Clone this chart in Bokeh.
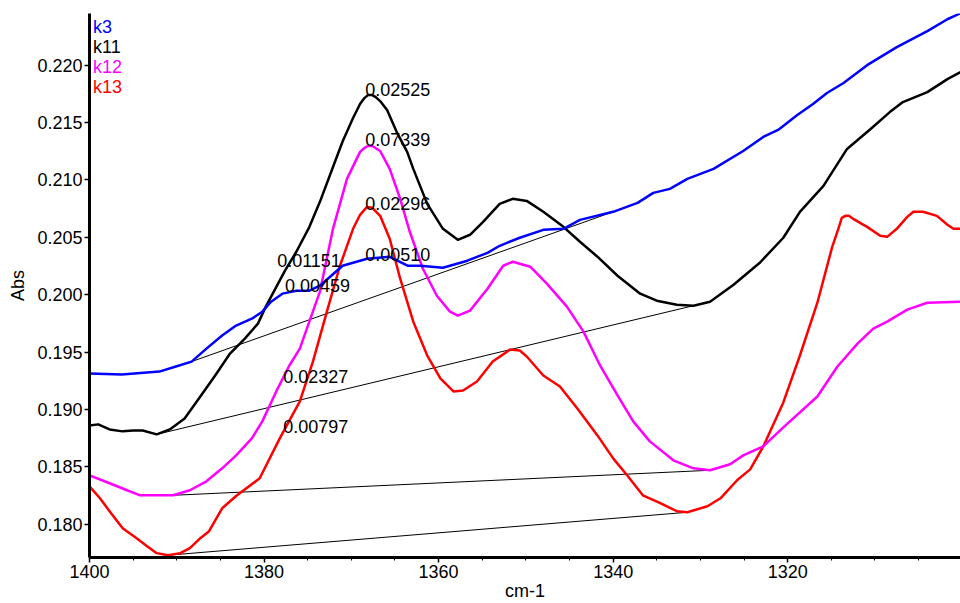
from bokeh.plotting import figure
from bokeh.models import Range1d, FixedTicker, PrintfTickFormatter, ColumnDataSource
from bokeh.core.properties import value
from bokeh.embed import file_html
from bokeh.resources import INLINE

# --- spectra (wavenumber in cm-1, absorbance) ---
k3_x = [1400.0, 1396.3, 1392.0, 1390.1, 1388.3, 1386.6, 1384.8, 1383.2, 1381.4, 1380.2,
        1379.2, 1377.9, 1376.3, 1374.8, 1373.6, 1371.0, 1368.2, 1365.6, 1363.5, 1362.1,
        1359.5, 1356.7, 1354.4, 1353.0, 1350.7, 1348.0, 1345.7, 1343.8, 1340.0, 1337.2,
        1335.4, 1333.5, 1331.5, 1330.0, 1328.5, 1325.1, 1322.8, 1321.1, 1318.9, 1317.1,
        1315.5, 1313.6, 1310.9, 1307.5, 1304.0, 1301.7, 1300.2]
k3_y = [0.19313, 0.19304, 0.19330, 0.19374, 0.19417, 0.19530, 0.19644, 0.19731, 0.19791, 0.19852,
        0.19939, 0.20009, 0.20035, 0.20035, 0.20078, 0.20252, 0.20313, 0.20330, 0.20252, 0.20252,
        0.20235, 0.20296, 0.20365, 0.20426, 0.20496, 0.20565, 0.20574, 0.20652, 0.20722, 0.20800,
        0.20887, 0.20922, 0.21009, 0.21052, 0.21096, 0.21252, 0.21374, 0.21435, 0.21565, 0.21661,
        0.21757, 0.21844, 0.22000, 0.22157, 0.22296, 0.22400, 0.22452]

k11_x = [1400.0, 1399.0, 1397.7, 1396.2, 1395.0, 1393.9, 1392.3, 1390.8, 1389.1, 1387.3,
         1385.6, 1383.9, 1382.2, 1380.7, 1379.8, 1378.7, 1377.6, 1376.3, 1374.8, 1373.6,
         1372.1, 1371.0, 1369.8, 1369.0, 1368.5, 1368.1, 1367.6, 1367.2, 1366.7, 1365.9,
         1364.8, 1363.6, 1362.9, 1361.3, 1359.5, 1357.8, 1356.4, 1354.9, 1353.0, 1351.5,
         1349.9, 1348.0, 1345.7, 1343.8, 1341.8, 1339.5, 1336.9, 1335.0, 1332.7, 1330.8,
         1328.9, 1326.2, 1323.2, 1320.5, 1318.6, 1315.9, 1313.2, 1310.5, 1308.3, 1306.8,
         1304.0, 1301.7, 1300.2]
k11_y = [0.18861, 0.18870, 0.18826, 0.18809, 0.18817, 0.18817, 0.18783, 0.18826, 0.18922, 0.19113,
         0.19296, 0.19487, 0.19617, 0.19748, 0.19896, 0.20052, 0.20209, 0.20374, 0.20591, 0.20809,
         0.21113, 0.21335, 0.21539, 0.21661, 0.21713, 0.21739, 0.21739, 0.21722, 0.21687, 0.21609,
         0.21417, 0.21244, 0.21096, 0.20791, 0.20574, 0.20478, 0.20522, 0.20635, 0.20791, 0.20835,
         0.20817, 0.20722, 0.20591, 0.20461, 0.20331, 0.20165, 0.20009, 0.19948, 0.19913, 0.19904,
         0.19939, 0.20087, 0.20278, 0.20496, 0.20722, 0.20948, 0.21270, 0.21444, 0.21591, 0.21678,
         0.21765, 0.21878, 0.21939]

k12_x = [1400.0, 1397.7, 1395.7, 1394.2, 1390.4, 1388.5, 1386.6, 1384.8, 1383.2, 1381.4,
         1380.2, 1378.6, 1377.1, 1375.9, 1373.6, 1372.1, 1370.5, 1369.0, 1368.5, 1368.1,
         1367.6, 1366.7, 1365.6, 1364.4, 1363.3, 1361.8, 1360.2, 1358.7, 1357.8, 1356.4,
         1354.4, 1352.6, 1351.5, 1350.7, 1349.5, 1347.6, 1345.3, 1343.4, 1341.5, 1339.5,
         1337.7, 1335.8, 1333.1, 1330.8, 1328.9, 1326.6, 1325.1, 1322.8, 1320.5, 1316.6,
         1314.3, 1312.0, 1310.2, 1308.6, 1306.3, 1304.0, 1300.2]
k12_y = [0.18426, 0.18357, 0.18296, 0.18252, 0.18252, 0.18296, 0.18374, 0.18487, 0.18600, 0.18748,
         0.18896, 0.19157, 0.19383, 0.19530, 0.20026, 0.20574, 0.21009, 0.21244, 0.21278, 0.21296,
         0.21296, 0.21252, 0.21096, 0.20835, 0.20548, 0.20226, 0.19991, 0.19852, 0.19817, 0.19861,
         0.20052, 0.20252, 0.20287, 0.20270, 0.20244, 0.20096, 0.19896, 0.19678, 0.19383, 0.19122,
         0.18896, 0.18722, 0.18557, 0.18487, 0.18470, 0.18522, 0.18600, 0.18678, 0.18844, 0.19113,
         0.19374, 0.19574, 0.19704, 0.19765, 0.19870, 0.19930, 0.19939]

k13_x = [1400.0, 1398.8, 1397.7, 1396.2, 1394.6, 1393.4, 1392.3, 1391.0, 1389.6, 1388.5,
         1387.3, 1386.3, 1384.8, 1383.1, 1380.5, 1378.2, 1375.9, 1374.4, 1372.8, 1371.3,
         1369.8, 1369.0, 1368.2, 1367.6, 1366.7, 1365.6, 1364.4, 1362.9, 1361.3, 1359.8,
         1358.3, 1357.2, 1355.6, 1353.8, 1351.8, 1350.7, 1349.9, 1348.0, 1346.1, 1344.1,
         1341.8, 1340.0, 1338.4, 1336.6, 1334.6, 1332.7, 1331.5, 1329.2, 1327.7, 1325.8,
         1324.3, 1322.8, 1320.5, 1318.6, 1316.6, 1314.9, 1314.2, 1313.8, 1313.4, 1313.0,
         1312.5, 1310.9, 1309.4, 1308.6, 1307.5, 1306.3, 1305.6, 1304.5, 1302.9, 1301.7,
         1301.0, 1300.2]
k13_y = [0.18330, 0.18226, 0.18113, 0.17965, 0.17878, 0.17809, 0.17748, 0.17730, 0.17748, 0.17791,
         0.17878, 0.17939, 0.18139, 0.18252, 0.18400, 0.18748, 0.19070, 0.19417, 0.19852, 0.20252,
         0.20574, 0.20696, 0.20765, 0.20757, 0.20687, 0.20487, 0.20139, 0.19765, 0.19470, 0.19270,
         0.19157, 0.19165, 0.19244, 0.19417, 0.19522, 0.19513, 0.19461, 0.19296, 0.19200, 0.19009,
         0.18774, 0.18574, 0.18426, 0.18252, 0.18183, 0.18113, 0.18104, 0.18157, 0.18226, 0.18383,
         0.18478, 0.18678, 0.19061, 0.19470, 0.19930, 0.20417, 0.20574, 0.20670, 0.20687, 0.20687,
         0.20661, 0.20591, 0.20513, 0.20504, 0.20574, 0.20678, 0.20722, 0.20722, 0.20687, 0.20609,
         0.20574, 0.20574]

# --- peak baselines (start / end points) ---
k3_base_x = [1388.3, 1340.0]
k3_base_y = [0.19417, 0.20722]
k11_base_x = [1392.3, 1330.8]
k11_base_y = [0.18783, 0.19904]
k12_base_x = [1390.4, 1328.9]
k12_base_y = [0.18252, 0.18470]
k13_base_x = [1391.0, 1331.5]
k13_base_y = [0.17730, 0.18104]

# --- peak annotations ---
peak_text = ["0.02525", "0.07339", "0.02296", "0.00510",
             "0.01151", "0.00459", "0.02327", "0.00797"]
peak_x = [1368.4, 1368.4, 1368.4, 1368.4, 1378.5, 1377.6, 1377.8, 1377.8]
peak_y = [0.21791, 0.21348, 0.20791, 0.20348, 0.20296, 0.20078, 0.19287, 0.18852]

# --- series names ---
series_names = ["k3", "k11", "k12", "k13"]
series_colors = ["#0000FF", "#000000", "#FF00FF", "#FF0000"]
name_x = [1399.6, 1399.6, 1399.6, 1399.6]
name_y = [0.22330, 0.22156, 0.21982, 0.21808]

x_major = [1400, 1380, 1360, 1340, 1320]
x_minor = list(range(1300, 1401, 5))
y_major = [0.180, 0.185, 0.190, 0.195, 0.200, 0.205, 0.210, 0.215, 0.220]

FONT = "Liberation Sans"

p = figure(width=960, height=603, output_backend="svg", toolbar_location=None,
           x_range=Range1d(1400, 1300.2), y_range=Range1d(0.1771, 0.2245),
           min_border_left=89, min_border_right=0, min_border_top=13, min_border_bottom=44)
p.outline_line_color = None
p.background_fill_color = "white"
p.border_fill_color = "white"
p.xgrid.visible = False
p.ygrid.visible = False

for ax in (p.xaxis[0], p.yaxis[0]):
    ax.axis_line_width = 3
    ax.axis_line_color = "black"
    ax.major_tick_line_color = "black"
    ax.major_tick_line_width = 1.5
    ax.major_tick_in = 0
    ax.major_tick_out = 5
    ax.major_label_text_font = FONT
    ax.major_label_text_font_size = "18px"
    ax.major_label_text_color = "black"
    ax.axis_label_text_font = FONT
    ax.axis_label_text_font_size = "18px"
    ax.axis_label_text_font_style = "normal"
    ax.axis_label_text_color = "black"

p.xaxis.ticker = FixedTicker(ticks=x_major, minor_ticks=x_minor)
p.xaxis.minor_tick_in = 0
p.xaxis.minor_tick_out = 3
p.xaxis.minor_tick_line_color = "black"
p.xaxis.major_label_standoff = 2
p.xaxis.axis_label = "cm-1"
p.xaxis.axis_label_standoff = 0

p.yaxis.ticker = FixedTicker(ticks=y_major)
p.yaxis.formatter = PrintfTickFormatter(format="%.3f")
p.yaxis.minor_tick_line_color = None
p.yaxis.major_label_standoff = 2
p.yaxis.axis_label = "Abs"
p.yaxis.axis_label_standoff = 6

# baselines under the spectra
for bx, by in ((k3_base_x, k3_base_y), (k11_base_x, k11_base_y),
               (k12_base_x, k12_base_y), (k13_base_x, k13_base_y)):
    p.line(bx, by, line_color="black", line_width=1)

for xs, ys, col in ((k13_x, k13_y, series_colors[3]), (k12_x, k12_y, series_colors[2]),
                    (k11_x, k11_y, series_colors[1]), (k3_x, k3_y, series_colors[0])):
    p.line(xs, ys, line_color=col, line_width=2.5, line_join="round")

peaks = ColumnDataSource(dict(x=peak_x, y=peak_y, t=peak_text))
p.text(x="x", y="y", text="t", source=peaks, text_font=value(FONT),
       text_font_size="18px", text_color="black", text_align="left", text_baseline="middle")

names = ColumnDataSource(dict(x=name_x, y=name_y, t=series_names, c=series_colors))
p.text(x="x", y="y", text="t", source=names, text_font=value(FONT),
       text_font_size="18px", text_color="c", text_align="left", text_baseline="middle")

open("out.html", "w").write(file_html(p, INLINE))
